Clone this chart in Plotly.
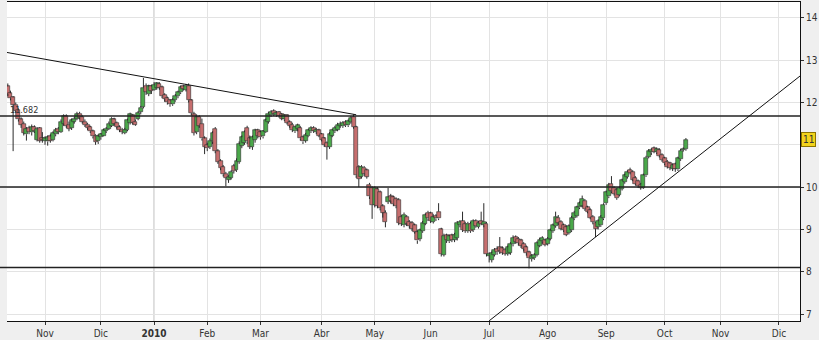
import pandas as pd
import plotly.graph_objects as go

# ---------------- data ----------------
holidays = ["2009-12-24", "2009-12-25", "2009-12-31", "2010-01-01", "2010-04-02", "2010-04-05"]
first_day = "2009-10-13"
last_day = "2010-10-13"

opens = [
    12.38, 12.22, 12.12, 11.95, 11.82, 11.60, 11.50, 11.25, 11.40, 11.30, 11.42, 11.12, 11.40, 11.15,
    11.10, 11.08, 11.20, 11.12, 11.25, 11.38, 11.30, 11.50, 11.68, 11.48, 11.40, 11.55, 11.62, 11.74, 11.66, 11.55, 11.48, 11.42, 11.32, 11.22, 11.08,
    11.18, 11.22, 11.32, 11.38, 11.45, 11.60, 11.52, 11.42, 11.36, 11.28, 11.35, 11.52, 11.70, 11.55, 11.62, 11.78, 11.90, 12.40, 12.20, 12.38,
    12.30, 12.35, 12.44, 12.36, 12.18, 12.10, 12.05, 11.96, 12.05, 12.15, 12.24, 12.38, 12.30, 12.40, 12.05, 11.72, 11.30, 11.66, 11.50, 11.15,
    11.00, 10.95, 11.08, 11.38, 10.85, 10.62, 10.48, 10.32, 10.18, 10.22, 10.50, 10.40, 10.60, 10.98, 11.05, 11.40, 11.15, 10.95, 11.12, 11.34,
    11.30, 11.20, 11.30, 11.55, 11.70, 11.80, 11.70, 11.78, 11.72, 11.60, 11.70, 11.54, 11.48, 11.32, 11.38, 11.40, 11.18, 11.10, 11.20, 11.32, 11.40, 11.30, 11.34,
    11.25, 11.15, 11.05, 10.95, 11.22, 11.32, 11.36, 11.45, 11.44, 11.54, 11.46, 11.54, 11.66, 11.42, 10.48, 10.25, 10.46, 10.40, 10.06, 9.98,
    9.58, 9.95, 9.88, 9.55, 9.40, 9.65, 9.78, 9.76, 9.72, 9.70, 9.30, 9.10, 9.30, 9.18, 9.15, 9.10, 8.94, 8.78, 8.96, 9.14, 9.40,
    9.38, 9.18, 9.32, 9.42, 9.00, 8.40, 8.86, 8.72, 8.86, 8.76, 8.80, 9.10, 9.20, 9.14, 8.96, 9.14, 8.98, 9.20, 9.06, 9.20, 9.10, 9.14,
    8.38, 8.28, 8.40, 8.54, 8.58, 8.55, 8.52, 8.42, 8.45, 8.65, 8.82, 8.78, 8.74, 8.66, 8.58, 8.46, 8.30, 8.32, 8.40, 8.62, 8.72, 8.74,
    8.66, 8.78, 8.96, 9.08, 9.28, 9.18, 9.10, 9.06, 8.92, 8.98, 9.26, 9.32, 9.52, 9.56, 9.68, 9.52, 9.46, 9.30, 9.16, 9.06, 9.10, 9.26,
    9.62, 9.78, 10.08, 9.98, 9.94, 9.82, 9.96, 10.12, 10.24, 10.40, 10.36, 10.22, 10.14, 10.06, 9.98, 10.28, 10.72, 10.82, 10.92, 10.82, 10.88, 10.76,
    10.68, 10.60, 10.56, 10.44, 10.54, 10.42, 10.66, 10.88, 10.90,
]
highs = [
    12.45, 12.28, 12.15, 12.00, 11.86, 11.65, 11.55, 11.42, 11.45, 11.48, 11.46, 11.42, 11.42, 11.30,
    11.20, 11.22, 11.25, 11.32, 11.40, 11.42, 11.60, 11.72, 11.72, 11.55, 11.62, 11.66, 11.78, 11.78, 11.70, 11.60, 11.52, 11.45, 11.36, 11.25, 11.25,
    11.28, 11.38, 11.42, 11.55, 11.65, 11.64, 11.55, 11.46, 11.40, 11.40, 11.62, 11.76, 11.73, 11.60, 11.80, 11.92, 12.58, 12.45, 12.42, 12.42,
    12.48, 12.48, 12.48, 12.40, 12.22, 12.14, 12.08, 12.10, 12.20, 12.28, 12.40, 12.42, 12.44, 12.45, 12.08, 11.78, 11.72, 11.70, 11.62, 11.20,
    11.05, 11.15, 11.32, 11.42, 10.90, 10.66, 10.52, 10.36, 10.28, 10.40, 10.55, 10.68, 11.08, 11.22, 11.34, 11.45, 11.22, 11.22, 11.38, 11.38,
    11.34, 11.35, 11.62, 11.78, 11.82, 11.84, 11.80, 11.80, 11.75, 11.72, 11.72, 11.58, 11.52, 11.45, 11.50, 11.44, 11.22, 11.28, 11.38, 11.44, 11.44, 11.40, 11.38,
    11.28, 11.18, 11.08, 11.30, 11.38, 11.45, 11.52, 11.55, 11.56, 11.58, 11.60, 11.68, 11.72, 11.45, 10.52, 10.52, 10.50, 10.44, 10.10, 10.02,
    10.02, 10.00, 9.92, 9.60, 9.45, 9.98, 9.84, 9.80, 9.76, 9.74, 9.34, 9.40, 9.34, 9.22, 9.20, 9.14, 8.98, 9.02, 9.20, 9.38, 9.44,
    9.42, 9.36, 9.36, 9.62, 9.04, 8.90, 8.90, 8.88, 8.90, 8.92, 9.20, 9.22, 9.42, 9.18, 9.18, 9.18, 9.24, 9.24, 9.20, 9.42, 9.62, 9.18,
    8.46, 8.48, 8.56, 8.60, 8.82, 8.60, 8.56, 8.62, 8.70, 8.86, 8.86, 8.82, 8.78, 8.70, 8.62, 8.50, 8.42, 8.44, 8.72, 8.80, 8.84, 8.78,
    8.82, 9.02, 9.14, 9.42, 9.34, 9.22, 9.14, 9.10, 9.12, 9.32, 9.44, 9.56, 9.66, 9.80, 9.72, 9.56, 9.50, 9.34, 9.18, 9.24, 9.34, 9.62,
    9.92, 10.10, 10.26, 10.02, 9.98, 10.02, 10.20, 10.32, 10.40, 10.46, 10.40, 10.26, 10.18, 10.10, 10.32, 10.74, 10.90, 10.92, 10.96, 10.94, 10.92, 10.80,
    10.72, 10.64, 10.60, 10.56, 10.58, 10.72, 10.90, 10.94, 11.16,
]
lows = [
    12.15, 12.05, 10.85, 11.75, 11.55, 11.40, 11.22, 11.10, 11.25, 11.22, 11.28, 11.08, 11.05, 11.05,
    11.00, 10.98, 11.05, 11.08, 11.20, 11.25, 11.28, 11.45, 11.40, 11.32, 11.35, 11.50, 11.58, 11.60, 11.50, 11.42, 11.35, 11.28, 11.15, 11.00, 11.02,
    11.12, 11.20, 11.28, 11.35, 11.42, 11.45, 11.38, 11.30, 11.25, 11.25, 11.32, 11.48, 11.48, 11.45, 11.58, 11.72, 11.86, 12.18, 12.15, 12.20,
    12.28, 12.30, 12.30, 12.10, 12.02, 11.95, 11.90, 11.92, 12.02, 12.10, 12.20, 12.28, 12.26, 12.00, 11.70, 11.22, 11.25, 11.40, 11.10, 10.78,
    10.85, 10.90, 11.02, 10.80, 10.55, 10.40, 10.25, 10.02, 10.10, 10.18, 10.32, 10.36, 10.55, 10.92, 11.00, 11.02, 10.90, 10.88, 11.05, 11.15,
    11.12, 11.15, 11.28, 11.50, 11.66, 11.68, 11.66, 11.64, 11.58, 11.56, 11.48, 11.40, 11.30, 11.28, 11.32, 11.10, 11.02, 11.05, 11.18, 11.28, 11.28, 11.25, 11.18,
    11.08, 10.95, 10.65, 10.90, 11.18, 11.28, 11.32, 11.40, 11.40, 11.42, 11.42, 11.50, 11.38, 10.22, 10.00, 10.20, 10.26, 10.20, 9.72, 9.25,
    9.52, 9.50, 9.45, 9.28, 9.05, 9.60, 9.62, 9.55, 9.50, 9.10, 9.08, 9.05, 9.08, 9.02, 8.96, 8.90, 8.66, 8.72, 8.92, 9.10, 9.20,
    9.15, 9.14, 9.20, 9.22, 8.36, 8.36, 8.68, 8.68, 8.70, 8.70, 8.74, 9.05, 8.94, 8.92, 8.92, 8.92, 8.94, 9.04, 9.02, 9.10, 9.05, 8.36,
    8.22, 8.22, 8.36, 8.40, 8.42, 8.40, 8.38, 8.38, 8.40, 8.60, 8.66, 8.62, 8.56, 8.48, 8.38, 8.08, 8.24, 8.28, 8.36, 8.58, 8.66, 8.60,
    8.62, 8.74, 8.92, 9.04, 9.10, 8.98, 8.94, 8.84, 8.88, 8.94, 9.22, 9.28, 9.48, 9.52, 9.44, 9.38, 9.24, 9.12, 8.82, 9.00, 9.06, 9.22,
    9.58, 9.74, 9.86, 9.80, 9.70, 9.78, 9.92, 10.08, 10.20, 10.30, 10.14, 10.04, 9.98, 9.94, 9.96, 10.24, 10.68, 10.76, 10.80, 10.78, 10.70, 10.60,
    10.52, 10.44, 10.40, 10.38, 10.36, 10.38, 10.62, 10.84, 10.86,
]
closes = [
    12.20, 12.10, 11.95, 11.80, 11.60, 11.48, 11.28, 11.38, 11.30, 11.42, 11.32, 11.38, 11.10, 11.12,
    11.15, 11.18, 11.10, 11.28, 11.36, 11.30, 11.55, 11.68, 11.45, 11.38, 11.58, 11.62, 11.72, 11.64, 11.55, 11.47, 11.40, 11.32, 11.20, 11.07, 11.20,
    11.25, 11.35, 11.38, 11.50, 11.62, 11.50, 11.42, 11.35, 11.30, 11.36, 11.58, 11.72, 11.52, 11.48, 11.75, 11.88, 12.35, 12.25, 12.38, 12.28,
    12.42, 12.45, 12.35, 12.15, 12.08, 12.00, 11.96, 12.06, 12.16, 12.24, 12.36, 12.32, 12.40, 12.05, 11.75, 11.28, 11.66, 11.45, 11.15, 10.95,
    10.92, 11.10, 11.28, 10.85, 10.60, 10.45, 10.30, 10.22, 10.25, 10.36, 10.38, 10.62, 11.02, 11.18, 11.30, 11.08, 10.95, 11.18, 11.34, 11.20,
    11.18, 11.32, 11.58, 11.74, 11.78, 11.72, 11.76, 11.68, 11.62, 11.70, 11.52, 11.45, 11.35, 11.42, 11.46, 11.15, 11.08, 11.24, 11.35, 11.40, 11.32, 11.36, 11.22,
    11.12, 11.00, 10.95, 11.25, 11.35, 11.40, 11.48, 11.50, 11.52, 11.46, 11.56, 11.64, 11.42, 10.28, 10.20, 10.48, 10.32, 10.25, 9.78, 9.58,
    9.98, 9.56, 9.50, 9.40, 9.18, 9.76, 9.68, 9.60, 9.55, 9.15, 9.14, 9.35, 9.14, 9.08, 9.02, 8.94, 8.74, 8.98, 9.16, 9.34, 9.26,
    9.20, 9.30, 9.26, 9.26, 8.42, 8.85, 8.74, 8.84, 8.76, 8.88, 9.16, 9.18, 8.98, 8.96, 9.14, 8.96, 9.20, 9.08, 9.16, 9.14, 9.18, 8.42,
    8.42, 8.44, 8.52, 8.46, 8.48, 8.45, 8.42, 8.58, 8.66, 8.80, 8.70, 8.68, 8.62, 8.54, 8.44, 8.32, 8.38, 8.40, 8.68, 8.76, 8.80, 8.64,
    8.78, 8.98, 9.10, 9.30, 9.16, 9.02, 8.98, 8.88, 9.08, 9.28, 9.40, 9.52, 9.62, 9.72, 9.48, 9.42, 9.28, 9.18, 9.02, 9.20, 9.30, 9.58,
    9.88, 10.06, 9.90, 9.84, 9.74, 9.98, 10.16, 10.28, 10.36, 10.34, 10.18, 10.08, 10.02, 9.98, 10.28, 10.70, 10.86, 10.88, 10.84, 10.90, 10.74, 10.64,
    10.56, 10.48, 10.46, 10.52, 10.44, 10.68, 10.86, 10.90, 11.12,
]

tick_dates = ["2009-11-02", "2009-12-01", "2010-01-04", "2010-02-01", "2010-03-01", "2010-04-01", "2010-05-03",
              "2010-06-01", "2010-07-01", "2010-08-02", "2010-09-01", "2010-10-01", "2010-11-01", "2010-12-01"]
tick_labels = ["Nov", "Dic", "<b>2010</b>", "Feb", "Mar", "Abr", "May", "Jun", "Jul", "Ago", "Sep", "Oct", "Nov", "Dic"]
year_date = "2010-01-04"

support_levels = [11.682, 10.0, 8.1]
level_label = "11.682"
down_trend = [("2009-10-12", 13.19), ("2010-04-22", 11.71)]
up_trend = [("2010-07-01", 6.84), ("2010-12-13", 12.63)]

y_ticks = [7, 8, 9, 10, 11, 12, 13, 14]
y_tick_text = ["7", "8", "9", "10", "", "12", "13", "14"]   # "11" is shown in the last-price box
last_label = "11"

# ---------------- trading-day scale ----------------
calendar = pd.bdate_range("2009-09-01", "2011-01-31")
calendar = calendar[~calendar.isin(pd.to_datetime(holidays))]


def pos(d):
    return int(calendar.get_loc(pd.Timestamp(d)))


dates = calendar[(calendar >= pd.Timestamp(first_day)) & (calendar <= pd.Timestamp(last_day))]
xs = [pos(d) for d in dates]
assert len(xs) == len(opens) == len(highs) == len(lows) == len(closes)

UP = "#4aa84a"
DOWN = "#c66e6e"

body_base = [min(o, c) for o, c in zip(opens, closes)]
body_len = [max(abs(c - o), 0.02) for o, c in zip(opens, closes)]
body_col = [UP if c >= o else DOWN for o, c in zip(opens, closes)]

wx, wy = [], []
for x, o, h, l, c in zip(xs, opens, highs, lows, closes):
    top, bot = max(o, c), min(o, c)
    wx += [x, x, None, x, x, None]
    wy += [top, h, None, bot, l, None]

fig = go.Figure()
fig.add_trace(go.Bar(x=xs, y=body_len, base=body_base, width=1.5,
                     marker=dict(color=body_col, line=dict(color="#2b2b2b", width=0.6)),
                     hoverinfo="skip", showlegend=False))
fig.add_trace(go.Scatter(x=wx, y=wy, mode="lines", line=dict(color="#2b2b2b", width=1),
                         hoverinfo="skip", showlegend=False))

shapes = []
shapes.append(dict(type="line", xref="x", yref="paper", x0=pos(year_date), x1=pos(year_date), y0=0, y1=1,
                   line=dict(color="#b4b4b4", width=1), layer="below"))
for lv in support_levels:
    shapes.append(dict(type="line", xref="paper", yref="y", x0=-7 / 793, x1=1, y0=lv, y1=lv,
                       line=dict(color="#222222", width=1.5)))
for (d0, v0), (d1, v1) in [down_trend, up_trend]:
    shapes.append(dict(type="line", xref="x", yref="y", x0=pos(d0), y0=v0, x1=pos(d1), y1=v1,
                       line=dict(color="#111111", width=1)))

font_family = "Liberation Sans Narrow, Arial Narrow, DejaVu Sans Condensed, sans-serif"

fig.update_layout(
    width=819, height=340,
    margin=dict(l=7, r=19, t=1, b=17),
    paper_bgcolor="#efefef", plot_bgcolor="#ffffff",
    font=dict(family=font_family, size=10, color="#333333"),
    shapes=shapes,
    bargap=0,
    xaxis=dict(
        range=[pos("2009-11-02") - 14.3, pos("2010-12-01") + 7.9],
        tickmode="array", tickvals=[pos(d) for d in tick_dates], ticktext=tick_labels,
        showgrid=True, gridcolor="#e3e3e3", gridwidth=1,
        showline=True, linecolor="#111111", linewidth=1, mirror=True,
        ticks="outside", ticklen=3, tickcolor="#333333",
        zeroline=False, fixedrange=True,
        tickfont=dict(size=10, color="#333333", family=font_family),
    ),
    yaxis=dict(
        side="right", range=[6.836, 14.375],
        tickmode="array", tickvals=y_ticks, ticktext=y_tick_text,
        showgrid=True, gridcolor="#e3e3e3", gridwidth=1,
        showline=True, linecolor="#111111", linewidth=1,
        ticks="outside", ticklen=3, tickcolor="#333333",
        zeroline=False, fixedrange=True,
        tickfont=dict(size=10, color="#333333", family=font_family),
    ),
    annotations=[
        dict(xref="paper", yref="y", x=0, y=support_levels[0], xanchor="left", yanchor="bottom",
             text=level_label, showarrow=False, xshift=1, yshift=-1,
             font=dict(size=9, color="#333333", family=font_family)),
        dict(xref="paper", yref="y", x=1, y=closes[-1], xanchor="left", yanchor="middle",
             text=last_label, showarrow=False, xshift=1,
             bgcolor="#f2d31c", bordercolor="#8c7400", borderwidth=1, borderpad=1,
             font=dict(size=10, color="#333333", family=font_family)),
    ],
)

fig.write_html("out.html")
